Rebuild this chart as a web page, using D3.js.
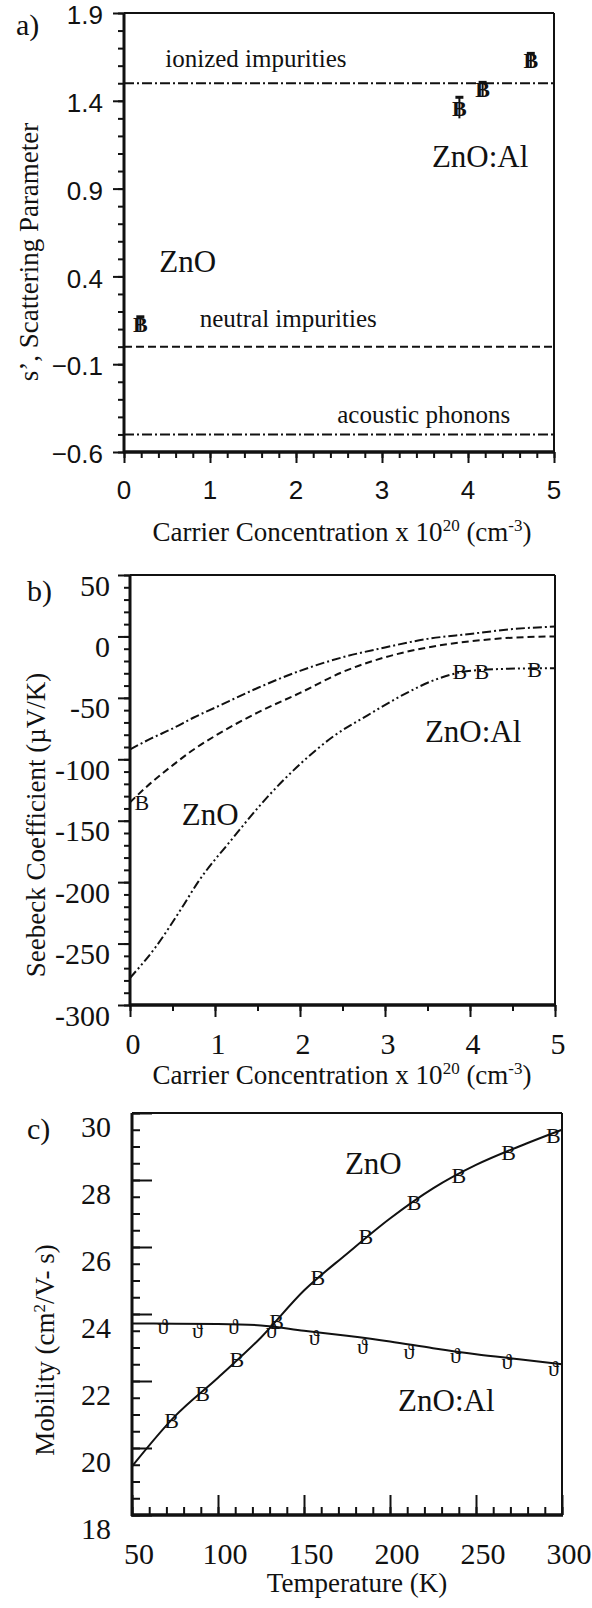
<!DOCTYPE html>
<html>
<head>
<meta charset="utf-8">
<title>ZnO scattering, Seebeck and mobility</title>
<script src="https://cdn.jsdelivr.net/npm/d3@7/dist/d3.min.js"></script>
<style>
  html, body { margin: 0; padding: 0; background: #fff; }
  svg { display: block; }
  text { fill: #111; }
</style>
</head>
<body>
<script>
// ---- panel a : scattering parameter vs carrier concentration
var aTicksX = [0, 1, 2, 3, 4, 5];
var aTicksY = [-0.6, -0.1, 0.4, 0.9, 1.4, 1.9];
var aLimitNames = ['ionized impurities', 'neutral impurities', 'acoustic phonons'];
var aLimitValues = [1.5, 0.0, -0.5];
var aConc = [0.19, 3.9, 4.17, 4.73];
var aS = [0.13, 1.36, 1.465, 1.63];
var aErr = [0.04, 0.06, 0.04, 0.04];

// ---- panel b : seebeck coefficient vs carrier concentration
var bTicksX = [0, 1, 2, 3, 4, 5];
var bTicksY = [-300, -250, -200, -150, -100, -50, 0, 50];
var bUpperX = [0, 0.25, 0.5, 0.75, 1, 1.5, 2, 2.5, 3, 3.5, 4, 4.5, 5];
var bUpper = [-92, -83, -75, -66, -58, -42, -28, -17, -9, -2, 2, 6, 8];
var bMiddleX = [0, 0.25, 0.5, 0.75, 1, 1.5, 2, 2.5, 3, 3.5, 4, 4.5, 5];
var bMiddle = [-135, -119, -105, -92, -81, -62, -46, -29, -17, -9, -4, -1, 0];
var bLowerX = [0, 0.3, 0.6, 0.8, 1.2, 1.6, 2.0, 2.4, 2.8, 3.2, 3.6, 3.9, 4.2, 4.75, 5];
var bLower = [-278, -253, -222, -200, -165, -132, -104, -81, -64, -48, -35, -29, -27, -26, -26];
var bConc = [0.14, 3.88, 4.14, 4.76];
var bSeebeck = [-135, -28, -28, -27];

// ---- panel c : mobility vs temperature
var cTicksX = [50, 100, 150, 200, 250, 300];
var cTicksY = [18, 20, 22, 24, 26, 28, 30];
var cZnOT = [73, 91, 111, 134, 158, 186, 214, 240, 269, 295];
var cZnOMu = [20.84, 21.63, 22.65, 23.77, 25.11, 26.31, 27.32, 28.15, 28.84, 29.34];
var cAlT = [68, 88, 109, 131, 156, 184, 211, 238, 268, 295];
var cAlMu = [23.62, 23.52, 23.62, 23.5, 23.3, 23.05, 22.9, 22.78, 22.58, 22.38];
var cFitT = [50, 75, 100, 125, 150, 175, 200, 225, 250, 275, 300];
var cZnOFit = [19.45, 20.95, 22.1, 23.3, 24.7, 25.8, 26.85, 27.75, 28.45, 29.0, 29.5];
var cAlFit = [23.72, 23.71, 23.7, 23.66, 23.5, 23.35, 23.18, 22.98, 22.8, 22.65, 22.5];

var SERIF = "'Liberation Serif', 'Times New Roman', Times, serif";
var SANS = "'Liberation Sans', Arial, Helvetica, sans-serif";

var svg = d3.select('body').append('svg')
    .attr('width', 592)
    .attr('height', 1608);

function zip(xs, ys) {
    return xs.map(function (d, i) { return [d, ys[i]]; });
}

// frame + ticks for one panel
function frame(x, y, opt) {
    var g = svg.append('g');
    var x0 = x.range()[0], x1 = x.range()[1];
    var y0 = y.range()[0], y1 = y.range()[1];

    var dir = opt.inward ? -1 : 1;
    g.append('g').attr('transform', 'translate(' + x0 + ',0)')
        .call(d3.axisLeft(y).tickValues(opt.minorY).tickSize(dir * opt.minorLen).tickFormat(''));
    g.append('g').attr('transform', 'translate(' + x0 + ',0)')
        .call(d3.axisLeft(y).tickValues(opt.majorY).tickSize(dir * opt.majorLen).tickFormat(''));
    g.append('g').attr('transform', 'translate(0,' + y0 + ')')
        .call(d3.axisBottom(x).tickValues(opt.minorX).tickSize(dir * opt.minorLen).tickFormat(''));
    g.append('g').attr('transform', 'translate(0,' + y0 + ')')
        .call(d3.axisBottom(x).tickValues(opt.majorX).tickSize(dir * opt.majorLen).tickFormat(''));
    g.selectAll('.domain').remove();
    g.selectAll('.tick line').attr('stroke', '#111').attr('stroke-width', 2);

    // box
    g.append('line').attr('x1', x0).attr('x2', x1).attr('y1', y1).attr('y2', y1)
        .attr('stroke', '#111').attr('stroke-width', 2);
    g.append('line').attr('x1', x1).attr('x2', x1).attr('y1', y1).attr('y2', y0)
        .attr('stroke', '#111').attr('stroke-width', 2);
    g.append('line').attr('x1', x0).attr('x2', x0).attr('y1', y1).attr('y2', y0 + 1)
        .attr('stroke', '#111').attr('stroke-width', 3);
    g.append('line').attr('x1', x0 - 1).attr('x2', x1 + 1).attr('y1', y0).attr('y2', y0)
        .attr('stroke', '#111').attr('stroke-width', 3.5);

    // tick labels
    svg.append('g').selectAll('text').data(opt.labelsY).enter().append('text')
        .style('font-family', opt.font)
        .attr('x', opt.yLabelRight)
        .attr('y', function (d) { return y(d) + opt.yLabelShift; })
        .attr('dy', '0.35em')
        .attr('text-anchor', 'end')
        .style('font-size', opt.size + 'px')
        .text(opt.fmtY);
    svg.append('g').selectAll('text').data(opt.labelsX).enter().append('text')
        .style('font-family', opt.font)
        .attr('x', function (d) { return x(d) + opt.xLabelShift; })
        .attr('y', opt.xLabelMid)
        .attr('dy', '0.35em')
        .attr('text-anchor', 'middle')
        .style('font-size', opt.size + 'px')
        .text(String);
}

function label(x, y, txt, size, anchor) {
    return svg.append('text').style('font-family', SERIF)
        .attr('x', x).attr('y', y)
        .attr('text-anchor', anchor || 'start')
        .style('font-size', size + 'px')
        .text(txt);
}

function concTitle(cx, baseline) {
    var t = svg.append('text').style('font-family', SERIF)
        .attr('x', cx).attr('y', baseline)
        .attr('text-anchor', 'middle')
        .style('font-size', '27px');
    t.append('tspan').text('Carrier Concentration x 10');
    t.append('tspan').attr('dy', -10).style('font-size', '17px').text('20');
    t.append('tspan').attr('dy', 10).text(' (cm');
    t.append('tspan').attr('dy', -10).style('font-size', '17px').text('-3');
    t.append('tspan').attr('dy', 10).text(')');
}

function vTitle(cx, cy) {
    return svg.append('text').style('font-family', SERIF)
        .attr('transform', 'translate(' + cx + ',' + cy + ') rotate(-90)')
        .attr('text-anchor', 'middle')
        .attr('dy', '0.35em')
        .style('font-size', '27px');
}

function markers(x, y, xs, ys, glyph, bold) {
    svg.append('g').selectAll('text').data(zip(xs, ys)).enter().append('text')
        .style('font-family', SERIF)
        .attr('x', function (d) { return x(d[0]); })
        .attr('y', function (d) { return y(d[1]); })
        .attr('dy', '0.35em')
        .attr('text-anchor', 'middle')
        .style('font-size', '22px')
        .style('font-weight', bold ? 'bold' : 'normal')
        .text(glyph);
}

// =============== a) ===============
var xA = d3.scaleLinear().domain([0, 5]).range([124, 554]);
var yA = d3.scaleLinear().domain([-0.6, 1.9]).range([452, 13]);

svg.append('g').selectAll('line').data(aLimitValues).enter().append('line')
    .attr('x1', xA(0)).attr('x2', xA(5))
    .attr('y1', function (d) { return yA(d); })
    .attr('y2', function (d) { return yA(d); })
    .attr('stroke', '#111').attr('stroke-width', 2)
    .attr('stroke-dasharray', function (d, i) { return i === 1 ? '8,4' : '10,3,2,3'; });

frame(xA, yA, {
    inward: false, majorLen: 11, minorLen: 6,
    majorY: aTicksY, minorY: d3.range(-0.6, 1.91, 0.1),
    majorX: aTicksX, minorX: d3.range(0, 5.01, 0.2),
    labelsY: aTicksY, labelsX: aTicksX,
    fmtY: d3.format('.1f'), font: SANS, size: 26,
    yLabelRight: 103, yLabelShift: 2, xLabelShift: 0, xLabelMid: 490
});

// error bars
var eb = svg.append('g').selectAll('g').data(d3.range(aConc.length)).enter().append('g');
eb.append('line')
    .attr('x1', function (i) { return xA(aConc[i]); })
    .attr('x2', function (i) { return xA(aConc[i]); })
    .attr('y1', function (i) { return yA(aS[i] - aErr[i]); })
    .attr('y2', function (i) { return yA(aS[i] + aErr[i]); })
    .attr('stroke', '#111').attr('stroke-width', 2);
eb.append('line')
    .attr('x1', function (i) { return xA(aConc[i]) - 4; })
    .attr('x2', function (i) { return xA(aConc[i]) + 4; })
    .attr('y1', function (i) { return yA(aS[i] + aErr[i]); })
    .attr('y2', function (i) { return yA(aS[i] + aErr[i]); })
    .attr('stroke', '#111').attr('stroke-width', 3);
markers(xA, yA, aConc, aS, 'B', true);

label(xA(0.48), yA(1.59), aLimitNames[0], 25);
label(xA(0.88), yA(0.112), aLimitNames[1], 25);
label(xA(2.48), yA(-0.435), aLimitNames[2], 25);
label(xA(3.58), yA(1.023), 'ZnO:Al', 31);
label(xA(0.41), yA(0.425), 'ZnO', 31);
label(16, 35, 'a)', 30);

vTitle(29, 252).text('s\u2019, Scattering Parameter');
concTitle(342, 541);

// =============== b) ===============
var xB = d3.scaleLinear().domain([0, 5]).range([130, 555]);
var yB = d3.scaleLinear().domain([-300, 50]).range([1005, 575]);

var lineB = d3.line()
    .x(function (d) { return xB(d[0]); })
    .y(function (d) { return yB(d[1]); })
    .curve(d3.curveMonotoneX);

var bCurves = [
    { pts: zip(bUpperX, bUpper), dash: '9,3,2,3' },
    { pts: zip(bMiddleX, bMiddle), dash: '7,4' },
    { pts: zip(bLowerX, bLower), dash: '9,3,2,3,2,3' }
];
svg.append('g').selectAll('path').data(bCurves).enter().append('path')
    .attr('d', function (d) { return lineB(d.pts); })
    .attr('fill', 'none')
    .attr('stroke', '#111').attr('stroke-width', 2)
    .attr('stroke-dasharray', function (d) { return d.dash; });

frame(xB, yB, {
    inward: false, majorLen: 12, minorLen: 6,
    majorY: bTicksY, minorY: d3.range(-300, 51, 10),
    majorX: bTicksX, minorX: d3.range(0, 5.01, 0.5),
    labelsY: bTicksY, labelsX: bTicksX,
    fmtY: String, font: SERIF, size: 30,
    yLabelRight: 110, yLabelShift: 10, xLabelShift: 3, xLabelMid: 1043
});

markers(xB, yB, bConc, bSeebeck, 'B', false);

label(xB(3.47), yB(-85.9), 'ZnO:Al', 31);
label(xB(0.61), yB(-153.5), 'ZnO', 31);
label(27, 601, 'b)', 30);

vTitle(36, 825).text('Seebeck Coefficient (\u00b5V/K)');
concTitle(342, 1084);

// =============== c) ===============
var xC = d3.scaleLinear().domain([50, 300]).range([132, 562]);
var yC = d3.scaleLinear().domain([18, 30]).range([1515, 1113]);

var lineC = d3.line()
    .x(function (d) { return xC(d[0]); })
    .y(function (d) { return yC(d[1]); })
    .curve(d3.curveMonotoneX);

svg.append('g').selectAll('path').data([zip(cFitT, cZnOFit), zip(cFitT, cAlFit)]).enter().append('path')
    .attr('d', lineC)
    .attr('fill', 'none')
    .attr('stroke', '#111').attr('stroke-width', 2);

frame(xC, yC, {
    inward: true, majorLen: 20, minorLen: 8,
    majorY: cTicksY, minorY: d3.range(18, 30.01, 0.5),
    majorX: cTicksX, minorX: d3.range(50, 300.1, 10),
    labelsY: cTicksY, labelsX: cTicksX,
    fmtY: String, font: SERIF, size: 30,
    yLabelRight: 111, yLabelShift: 13, xLabelShift: 7, xLabelMid: 1553
});

markers(xC, yC, cZnOT, cZnOMu, 'B', false);
markers(xC, yC, cAlT, cAlMu, '\u03d1', false);

label(xC(173.8), yC(28.17), 'ZnO', 31);
label(xC(204.7), yC(21.11), 'ZnO:Al', 31);
label(27, 1139, 'c)', 30);

var mt = vTitle(45, 1350);
mt.append('tspan').text('Mobility (cm');
mt.append('tspan').attr('dy', -9).style('font-size', '17px').text('2');
mt.append('tspan').attr('dy', 9).text('/V- s)');

label(357, 1592, 'Temperature (K)', 27, 'middle');
</script>
</body>
</html>
